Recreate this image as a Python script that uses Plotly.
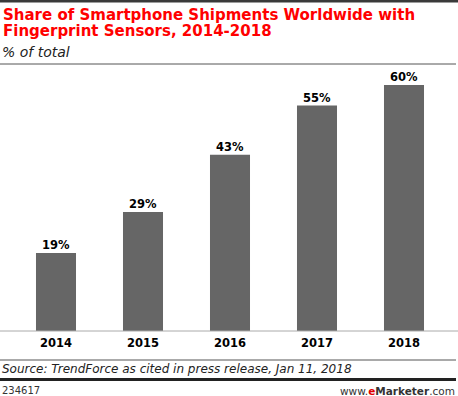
import plotly.graph_objects as go

W, H = 458, 396

years = ["2014", "2015", "2016", "2017", "2018"]
shares = [19, 29, 43, 55, 60]
value_labels = ["19%", "29%", "43%", "55%", "60%"]

title_line1 = "Share of Smartphone Shipments Worldwide with"
title_line2 = "Fingerprint Sensors, 2014-2018"
subtitle = "% of total"
source = "Source: TrendForce as cited in press release, Jan 11, 2018"
chart_id = "234617"

FONT = "DejaVu Sans, Verdana, sans-serif"


def px(x):
    return x / W


def py(y):
    return 1 - y / H


fig = go.Figure()
fig.add_trace(go.Bar(
    x=years, y=shares,
    marker=dict(color="#666666", line=dict(width=0)),
    hoverinfo="skip",
))

# value labels: category index positions on the category axis
for i, (v, lab) in enumerate(zip(shares, value_labels)):
    fig.add_annotation(x=i, y=v, xref="x", yref="y", text=lab, showarrow=False,
                       yanchor="bottom", xanchor="center", yshift=0, borderpad=0,
                       font=dict(family=FONT, size=11.5, color="#000000", weight="bold"))

plot_left, plot_right = 12.5, 447.5
plot_bottom, plot_top = 331, 70
ymax = 60 * (plot_bottom - plot_top) / (plot_bottom - 85)

fig.update_layout(
    width=W, height=H,
    margin=dict(l=0, r=0, t=0, b=0),
    paper_bgcolor="white", plot_bgcolor="white",
    showlegend=False,
    bargap=0.54,
    font=dict(family=FONT),
    xaxis=dict(type="category", range=[-0.5, len(years) - 0.5],
               domain=[px(plot_left), px(plot_right)], showgrid=False,
               zeroline=False, showline=False, ticks="", fixedrange=True, ticklabelstandoff=3,
               tickfont=dict(family=FONT, size=11.5, color="#000000", weight="bold")),
    yaxis=dict(domain=[py(plot_bottom), py(plot_top)], range=[0, ymax], visible=False,
               fixedrange=True),
)

shapes = [
    dict(type="rect", xref="paper", yref="paper", x0=0, x1=1, y0=py(2.6), y1=py(0),
         fillcolor="#3a3a3a", line=dict(width=0)),
    dict(type="line", xref="paper", yref="paper", x0=0, x1=px(456), y0=py(64), y1=py(64),
         line=dict(color="#555555", width=1)),
    dict(type="line", xref="paper", yref="paper", x0=0, x1=1, y0=py(331), y1=py(331),
         line=dict(color="#aaaaaa", width=1)),
    dict(type="line", xref="paper", yref="paper", x0=0, x1=px(456), y0=py(360), y1=py(360),
         line=dict(color="#555555", width=1)),
    dict(type="line", xref="paper", yref="paper", x0=0, x1=px(456), y0=py(379.5), y1=py(379.5),
         line=dict(color="#222222", width=3)),
]
fig.update_layout(shapes=shapes)


def ann(text, x, y, size, color="#000000", xanchor="left", weight="normal", style="normal"):
    fig.add_annotation(text=text, x=px(x), y=py(y), xref="paper", yref="paper",
                       xanchor=xanchor, yanchor="middle", showarrow=False,
                       font=dict(family=FONT, size=size, color=color, weight=weight, style=style),
                       borderpad=0)


ann(title_line1, 2, 15, 15, color="#ff0000", weight="bold")
ann(title_line2, 2, 30.7, 15, color="#ff0000", weight="bold")
ann(subtitle, 1, 51.5, 14, color="#222222", style="italic")
ann(source, 1, 368.8, 12, color="#222222", style="italic")
ann(chart_id, 1, 390.5, 10, color="#333333")
ann("www.<b><span style='color:#e00000'>e</span>Marketer</b>.com", 456, 390.5, 10.5,
    color="#333333", xanchor="right")

fig.write_html("out.html", config={"displayModeBar": False},
               post_script="document.body.style.margin='0';")
